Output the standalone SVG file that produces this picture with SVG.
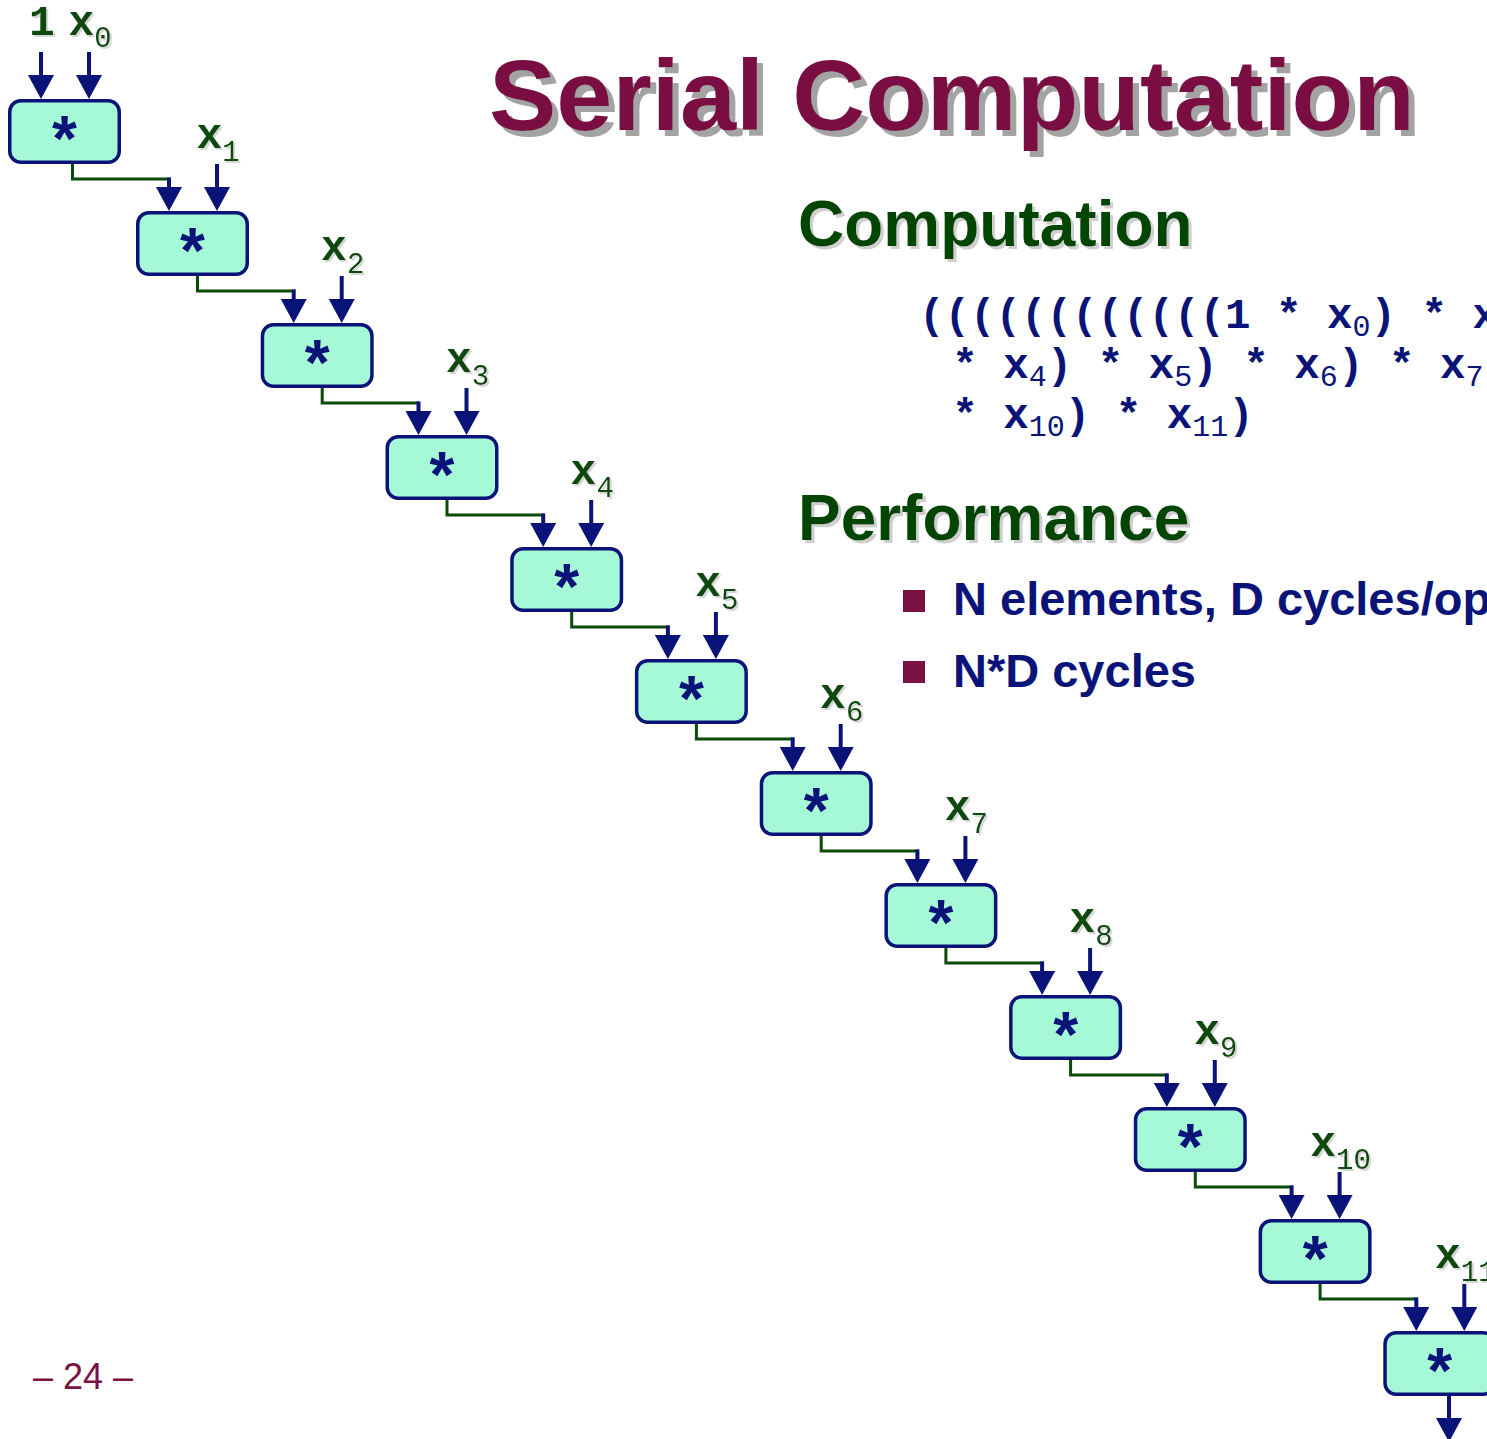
<svg xmlns="http://www.w3.org/2000/svg" width="1487" height="1439" viewBox="0 0 1487 1439">
<defs>
<style>
.box{fill:#a6f9d6;stroke:#0a1478;stroke-width:3.5}
.ast{font-family:"Liberation Sans",Arial,sans-serif;font-weight:bold;font-size:64px;fill:#0a1478;text-anchor:middle}
.arr{stroke:#0a1478;stroke-width:4;fill:none;marker-end:url(#ah)}
.wire{stroke:#0b4a0b;stroke-width:3;fill:none;stroke-linejoin:miter}
.lbl{font-family:"Liberation Mono","Courier New",monospace;font-weight:bold;font-size:43px;fill:#0b4a0b;text-anchor:middle;filter:url(#sh2)}
.sub{font-weight:normal;font-size:29px}
.code{font-family:"Liberation Mono","Courier New",monospace;font-weight:bold;font-size:42.5px;fill:#0a1478;white-space:pre}
.csub{font-weight:normal;font-size:30px}
.title{font-family:"Liberation Sans",Arial,sans-serif;font-weight:bold;font-size:101px;fill:#7a1143;filter:url(#sh6)}
.head{font-family:"Liberation Sans",Arial,sans-serif;font-weight:bold;font-size:64px;fill:#004400;filter:url(#sh3)}
.bul{font-family:"Liberation Sans",Arial,sans-serif;font-weight:bold;font-size:47px;fill:#0a1478}
.sq{fill:#7a1143}
.pg{font-family:"Liberation Sans",Arial,sans-serif;font-size:36px;fill:#7a1143}
</style>
<marker id="ah" viewBox="0 0 24 26" markerWidth="24" markerHeight="26" refX="16" refY="13" orient="auto" markerUnits="userSpaceOnUse">
<path d="M0,0 L24,13 L0,26 Z" fill="#0a1478"/>
</marker>
<filter id="sh6" x="-5%" y="-20%" width="115%" height="150%">
<feOffset in="SourceAlpha" dx="6" dy="6" result="o"/>
<feFlood flood-color="#a3a3a3"/>
<feComposite in2="o" operator="in" result="s"/>
<feMerge><feMergeNode in="s"/><feMergeNode in="SourceGraphic"/></feMerge>
</filter>
<filter id="sh3" x="-5%" y="-20%" width="115%" height="150%">
<feOffset in="SourceAlpha" dx="3" dy="3" result="o"/>
<feFlood flood-color="#cfcfcf"/>
<feComposite in2="o" operator="in" result="s"/>
<feMerge><feMergeNode in="s"/><feMergeNode in="SourceGraphic"/></feMerge>
</filter>
<filter id="sh2" x="-20%" y="-20%" width="150%" height="150%">
<feOffset in="SourceAlpha" dx="2" dy="2" result="o"/>
<feFlood flood-color="#d6d6d6"/>
<feComposite in2="o" operator="in" result="s"/>
<feMerge><feMergeNode in="s"/><feMergeNode in="SourceGraphic"/></feMerge>
</filter>
</defs>
<rect width="1487" height="1439" fill="#ffffff"/>

<text class="title" x="489" y="130">Serial Computation</text>
<text class="head" x="798" y="246">Computation</text>
<text class="code" x="919" y="328">((((((((((((1 * x<tspan class="csub" dy="8">0</tspan><tspan dy="-8">) * x</tspan></text>
<text class="code" x="952.25" y="378">* x<tspan class="csub" dy="8">4</tspan><tspan dy="-8">) * x</tspan><tspan class="csub" dy="8">5</tspan><tspan dy="-8">) * x</tspan><tspan class="csub" dy="8">6</tspan><tspan dy="-8">) * x</tspan><tspan class="csub" dy="8">7</tspan></text>
<text class="code" x="952.25" y="428">* x<tspan class="csub" dy="8">10</tspan><tspan dy="-8">) * x</tspan><tspan class="csub" dy="8">11</tspan><tspan dy="-8">)</tspan></text>
<text class="head" x="798" y="540">Performance</text>
<rect class="sq" x="903" y="590" width="22" height="22"/>
<text class="bul" x="953" y="615">N elements, D cycles/op</text>
<rect class="sq" x="903" y="661" width="22" height="22"/>
<text class="bul" x="953" y="687">N*D cycles</text>
<text class="pg" x="33" y="1389">– 24 –</text>

<g id="connectors">
<line class="arr" x1="41" y1="52" x2="41" y2="91"/>
<line class="arr" x1="89" y1="52" x2="89" y2="91"/>
<polyline class="wire" points="72.5,162 72.5,179 170.5,179"/>
<line class="arr" x1="169" y1="177.5" x2="169" y2="203"/>
<line class="arr" x1="217" y1="164" x2="217" y2="203"/>
<polyline class="wire" points="197.5,274 197.5,291 295.2,291"/>
<line class="arr" x1="293.7" y1="289.5" x2="293.7" y2="315"/>
<line class="arr" x1="341.7" y1="276" x2="341.7" y2="315"/>
<polyline class="wire" points="322.2,386 322.2,403 420,403"/>
<line class="arr" x1="418.5" y1="401.5" x2="418.5" y2="427"/>
<line class="arr" x1="466.5" y1="388" x2="466.5" y2="427"/>
<polyline class="wire" points="447,498 447,515 544.7,515"/>
<line class="arr" x1="543.2" y1="513.5" x2="543.2" y2="539"/>
<line class="arr" x1="591.2" y1="500" x2="591.2" y2="539"/>
<polyline class="wire" points="571.7,610 571.7,627 669.4,627"/>
<line class="arr" x1="667.9" y1="625.5" x2="667.9" y2="651"/>
<line class="arr" x1="715.9" y1="612" x2="715.9" y2="651"/>
<polyline class="wire" points="696.4,722 696.4,739 794.2,739"/>
<line class="arr" x1="792.7" y1="737.5" x2="792.7" y2="763"/>
<line class="arr" x1="840.7" y1="724" x2="840.7" y2="763"/>
<polyline class="wire" points="821.2,834 821.2,851 918.9,851"/>
<line class="arr" x1="917.4" y1="849.5" x2="917.4" y2="875"/>
<line class="arr" x1="965.4" y1="836" x2="965.4" y2="875"/>
<polyline class="wire" points="945.9,946 945.9,963 1043.6,963"/>
<line class="arr" x1="1042.1" y1="961.5" x2="1042.1" y2="987"/>
<line class="arr" x1="1090.1" y1="948" x2="1090.1" y2="987"/>
<polyline class="wire" points="1070.6,1058 1070.6,1075 1168.3,1075"/>
<line class="arr" x1="1166.8" y1="1073.5" x2="1166.8" y2="1099"/>
<line class="arr" x1="1214.8" y1="1060" x2="1214.8" y2="1099"/>
<polyline class="wire" points="1195.3,1170 1195.3,1187 1293.1,1187"/>
<line class="arr" x1="1291.6" y1="1185.5" x2="1291.6" y2="1211"/>
<line class="arr" x1="1339.6" y1="1172" x2="1339.6" y2="1211"/>
<polyline class="wire" points="1320.1,1282 1320.1,1299 1417.8,1299"/>
<line class="arr" x1="1416.3" y1="1297.5" x2="1416.3" y2="1323"/>
<line class="arr" x1="1464.3" y1="1284" x2="1464.3" y2="1323"/>
<line class="arr" x1="1449" y1="1394" x2="1449" y2="1434"/>
</g>

<g id="inputs">
<text class="lbl" x="42" y="35">1</text>
<text class="lbl" x="90" y="35">x<tspan class="sub" dy="12">0</tspan></text>
<text class="lbl" x="218" y="148">x<tspan class="sub" dy="13">1</tspan></text>
<text class="lbl" x="342.7" y="260">x<tspan class="sub" dy="13">2</tspan></text>
<text class="lbl" x="467.5" y="372">x<tspan class="sub" dy="13">3</tspan></text>
<text class="lbl" x="592.2" y="484">x<tspan class="sub" dy="13">4</tspan></text>
<text class="lbl" x="716.9" y="596">x<tspan class="sub" dy="13">5</tspan></text>
<text class="lbl" x="841.7" y="708">x<tspan class="sub" dy="13">6</tspan></text>
<text class="lbl" x="966.4" y="820">x<tspan class="sub" dy="13">7</tspan></text>
<text class="lbl" x="1091.1" y="932">x<tspan class="sub" dy="13">8</tspan></text>
<text class="lbl" x="1215.8" y="1044">x<tspan class="sub" dy="13">9</tspan></text>
<text class="lbl" x="1340.6" y="1156">x<tspan class="sub" dy="13">10</tspan></text>
<text class="lbl" x="1465.3" y="1268">x<tspan class="sub" dy="13">11</tspan></text>
</g>

<g id="node0"><rect class="box" x="9.75" y="100.75" width="109.5" height="61.5" rx="11"/><text class="ast" x="64.5" y="161">*</text></g>
<g id="node1"><rect class="box" x="137.75" y="212.75" width="109.5" height="61.5" rx="11"/><text class="ast" x="192.5" y="273">*</text></g>
<g id="node2"><rect class="box" x="262.45" y="324.75" width="109.5" height="61.5" rx="11"/><text class="ast" x="317.2" y="385">*</text></g>
<g id="node3"><rect class="box" x="387.25" y="436.75" width="109.5" height="61.5" rx="11"/><text class="ast" x="442" y="497">*</text></g>
<g id="node4"><rect class="box" x="511.95" y="548.75" width="109.5" height="61.5" rx="11"/><text class="ast" x="566.7" y="609">*</text></g>
<g id="node5"><rect class="box" x="636.65" y="660.75" width="109.5" height="61.5" rx="11"/><text class="ast" x="691.4" y="721">*</text></g>
<g id="node6"><rect class="box" x="761.45" y="772.75" width="109.5" height="61.5" rx="11"/><text class="ast" x="816.2" y="833">*</text></g>
<g id="node7"><rect class="box" x="886.15" y="884.75" width="109.5" height="61.5" rx="11"/><text class="ast" x="940.9" y="945">*</text></g>
<g id="node8"><rect class="box" x="1010.85" y="996.75" width="109.5" height="61.5" rx="11"/><text class="ast" x="1065.6" y="1057">*</text></g>
<g id="node9"><rect class="box" x="1135.55" y="1108.75" width="109.5" height="61.5" rx="11"/><text class="ast" x="1190.3" y="1169">*</text></g>
<g id="node10"><rect class="box" x="1260.35" y="1220.75" width="109.5" height="61.5" rx="11"/><text class="ast" x="1315.1" y="1281">*</text></g>
<g id="node11"><rect class="box" x="1385.05" y="1332.75" width="109.5" height="61.5" rx="11"/><text class="ast" x="1439.8" y="1393">*</text></g>
</svg>
